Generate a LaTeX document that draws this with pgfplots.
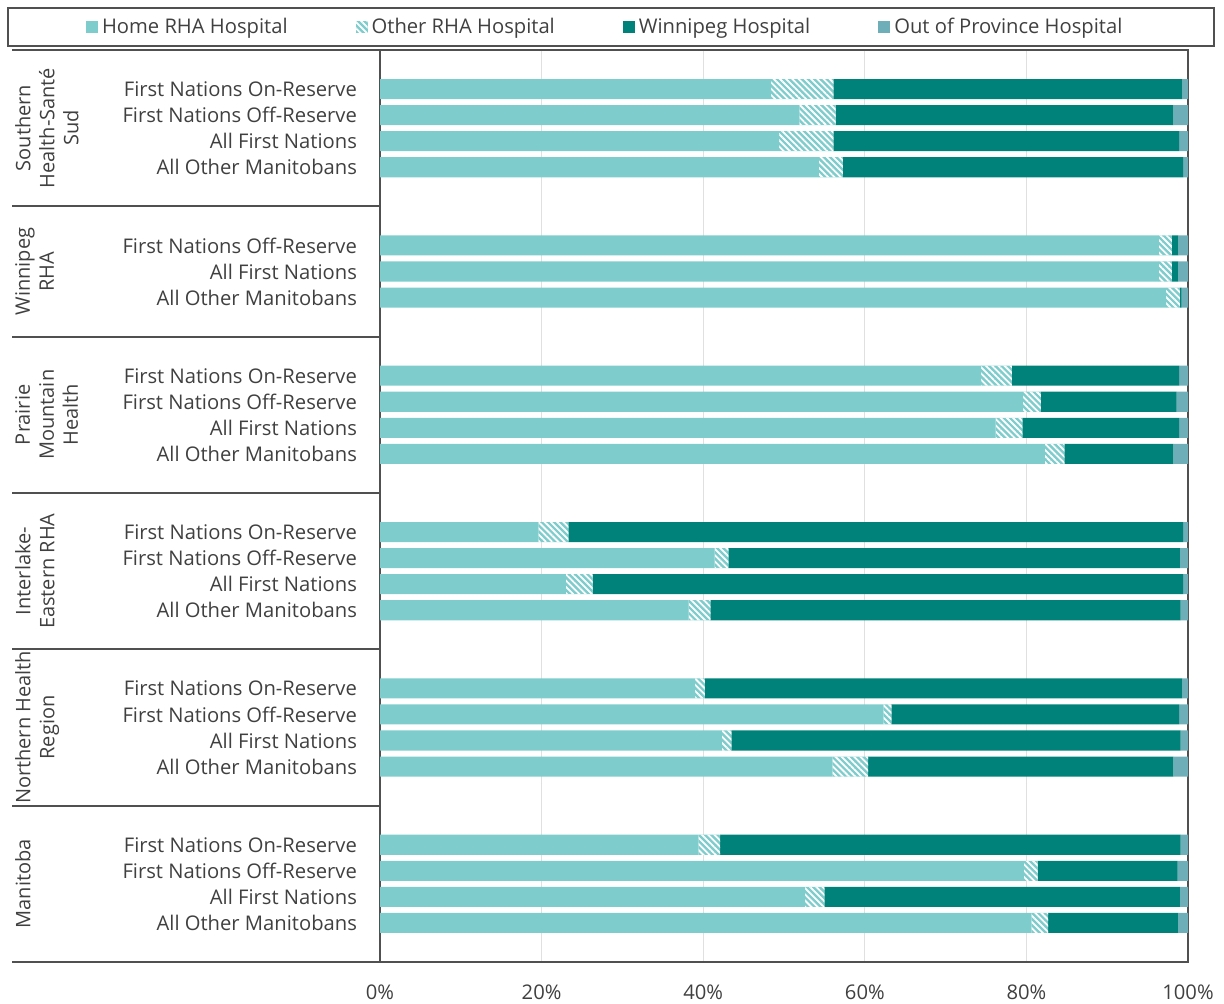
\documentclass[border=0pt]{standalone}
\usepackage{pgfplots}
\pgfplotsset{compat=1.18}
\usepackage{pgfplotstable}
\usetikzlibrary{patterns.meta}
\usepackage{fontspec}
\setmainfont{Open Sans}
\definecolor{homec}{RGB}{126,204,204}
\definecolor{wpgc}{RGB}{0,130,122}
\definecolor{oopc}{RGB}{110,174,184}
\definecolor{txtc}{RGB}{64,64,64}
\definecolor{axc}{RGB}{80,80,80}
\pgfplotstableread{
pos home other wpg oop
0 48.4 7.7 43.2 0.7
1 51.9 4.5 41.8 1.8
2 49.4 6.7 42.8 1.1
3 54.3 3.0 42.1 0.6
6 96.4 1.6 0.8 1.2
7 96.4 1.6 0.8 1.2
8 97.3 1.7 0.2 0.8
11 74.4 3.8 20.7 1.1
12 79.6 2.2 16.8 1.4
13 76.2 3.3 19.4 1.1
14 82.3 2.4 13.5 1.8
17 19.6 3.7 76.1 0.6
18 41.4 1.7 55.9 1.0
19 23.0 3.3 73.1 0.6
20 38.2 2.7 58.2 0.9
23 39.0 1.2 59.1 0.7
24 62.3 1.0 35.6 1.1
25 42.3 1.2 55.6 0.9
26 56.0 4.4 37.8 1.8
29 39.4 2.7 57.0 0.9
30 79.7 1.7 17.3 1.3
31 52.6 2.4 44.0 1.0
32 80.6 2.1 16.1 1.2
}\datatab
\tikzset{grp/.style={rotate=90, anchor=north, align=center, inner sep=0pt, text=txtc, font=\fontsize{10}{12}\selectfont}}
\begin{document}
\begin{tikzpicture}
\useasboundingbox (0,0) rectangle (612pt,502pt);
\draw[axc, line width=0.9pt] (4pt,479pt) rectangle (607pt,498pt);
\begin{axis}[
  at={(190pt,21pt)}, anchor=south west,
  width=404pt, height=456pt, scale only axis,
  xbar stacked, bar width=0.77,
  xmin=0, xmax=100, ymin=-1.5, ymax=33.5, y dir=reverse,
  clip=false,
  axis line style={draw=axc, line width=0.9pt},
  xmajorgrids, grid style={draw=black!12, line width=0.6pt},
  xtick={0,20,40,60,80,100},
  xticklabels={0\%,20\%,40\%,60\%,80\%,100\%},
  ytick={0,1,2,3,6,7,8,11,12,13,14,17,18,19,20,23,24,25,26,29,30,31,32},
  yticklabels={First Nations On-Reserve,First Nations Off-Reserve,All First Nations,All Other Manitobans,
    First Nations Off-Reserve,All First Nations,All Other Manitobans,
    First Nations On-Reserve,First Nations Off-Reserve,All First Nations,All Other Manitobans,
    First Nations On-Reserve,First Nations Off-Reserve,All First Nations,All Other Manitobans,
    First Nations On-Reserve,First Nations Off-Reserve,All First Nations,All Other Manitobans,
    First Nations On-Reserve,First Nations Off-Reserve,All First Nations,All Other Manitobans},
  major tick length=0pt,
  tick label style={font=\fontsize{10.1}{11}\selectfont, text=txtc},
  yticklabel style={xshift=-8pt},
  xticklabel style={yshift=-8pt},
  legend columns=4,
  legend style={draw=none, fill=none, at={(0.28,1.025)}, anchor=center,
    font=\fontsize{10.1}{11}\selectfont, text=txtc,
    /tikz/every even column/.append style={column sep=32pt}},
  legend image code/.code={\fill[#1] (0pt,-3pt) rectangle (6pt,3pt);},
]
\addplot[fill=homec, draw=none] table[x=home, y=pos] {\datatab};
\addplot[fill=homec, draw=none, postaction={pattern={Lines[angle=-45,distance=2.2pt,line width=0.9pt]}, pattern color=white}] table[x=other, y=pos] {\datatab};
\addplot[fill=wpgc, draw=none] table[x=wpg, y=pos] {\datatab};
\addplot[fill=oopc, draw=none] table[x=oop, y=pos] {\datatab};
\legend{Home RHA Hospital, Other RHA Hospital, Winnipeg Hospital, Out of Province Hospital}
\draw[axc, line width=0.9pt] (axis cs:-45.5,-1.5) -- (axis cs:0,-1.5);
\draw[axc, line width=0.9pt] (axis cs:-45.5,4.5) -- (axis cs:0,4.5);
\draw[axc, line width=0.9pt] (axis cs:-45.5,9.5) -- (axis cs:0,9.5);
\draw[axc, line width=0.9pt] (axis cs:-45.5,15.5) -- (axis cs:0,15.5);
\draw[axc, line width=0.9pt] (axis cs:-45.5,21.5) -- (axis cs:0,21.5);
\draw[axc, line width=0.9pt] (axis cs:-45.5,27.5) -- (axis cs:0,27.5);
\draw[axc, line width=0.9pt] (axis cs:-45.5,33.5) -- (axis cs:0,33.5);
\node[grp] at (axis cs:-45.2,1.5) {Southern\\Health-Santé\\Sud};
\node[grp] at (axis cs:-45.2,7) {Winnipeg\\RHA};
\node[grp] at (axis cs:-45.2,12.5) {Prairie\\Mountain\\Health};
\node[grp] at (axis cs:-45.2,18.5) {Interlake-\\Eastern RHA};
\node[grp] at (axis cs:-45.2,24.5) {Northern Health\\Region};
\node[grp] at (axis cs:-45.2,30.5) {Manitoba};
\end{axis}
\end{tikzpicture}
\end{document}
